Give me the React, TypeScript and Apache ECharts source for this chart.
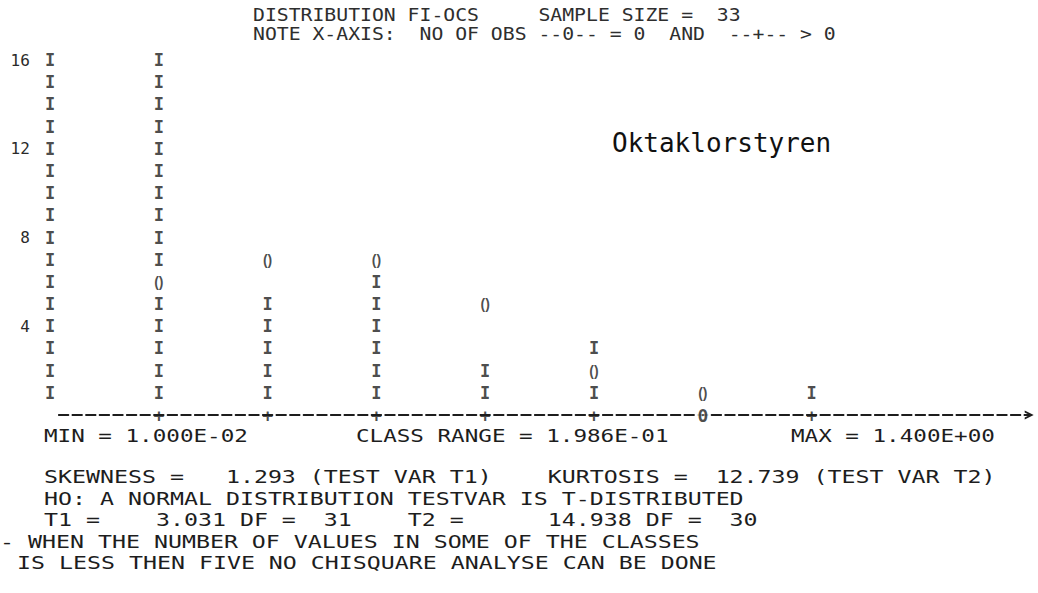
import React, { useEffect, useRef } from "react";
import * as echarts from "echarts";

// ---- data ----
const classIndex = [0, 1, 2, 3, 4, 5, 6, 7];
const counts = [16, 16, 5, 6, 2, 3, 0, 1];
const expected: (number | null)[] = [null, 6, 7, 7, 5, 2, 1, null];
const yTicks = [4, 8, 12, 16];

const titleLine1 = "DISTRIBUTION FI-OCS     SAMPLE SIZE =  33";
const titleLine2 = "NOTE X-AXIS:  NO OF OBS --0-- = 0  AND  --+-- > 0";
const minText = "MIN = 1.000E-02";
const rangeText = "CLASS RANGE = 1.986E-01";
const maxText = "MAX = 1.400E+00";
const statLines = [
  "SKEWNESS =   1.293 (TEST VAR T1)    KURTOSIS =  12.739 (TEST VAR T2)",
  "HO: A NORMAL DISTRIBUTION TESTVAR IS T-DISTRIBUTED",
  "T1 =    3.031 DF =  31    T2 =      14.938 DF =  30",
];
const noteLines = [
  "- WHEN THE NUMBER OF VALUES IN SOME OF THE CLASSES",
  "IS LESS THEN FIVE NO CHISQUARE ANALYSE CAN BE DONE",
];
const label = "Oktaklorstyren";

const INK = "#1d1d1d";
const MONO = "'DejaVu Sans Mono'";
const PITCH = 13.6; // print column width inside the plot
const TITLE_PITCH = 11.9;
const FOOT_PITCH = 14.0;

function mono(text: string, x: number, y: number, size: number, pitch: number, fill = INK) {
  return {
    type: "text",
    x,
    y,
    scaleX: pitch / (0.602 * size),
    silent: true,
    style: {
      text,
      fill,
      font: `${size}px ${MONO}`,
      textAlign: "left",
      align: "left",
      textVerticalAlign: "middle",
      verticalAlign: "middle",
    },
  };
}

export default function App() {
  const ref = useRef<HTMLDivElement>(null);
  useEffect(() => {
    const chart = echarts.init(ref.current!, null, { renderer: "svg" });

    const barPts: number[][] = [];
    classIndex.forEach((i) => {
      for (let k = 1; k <= counts[i]; k++) if (expected[i] !== k) barPts.push([i, k]);
    });
    const expPts = classIndex
      .filter((i) => expected[i] != null)
      .map((i) => [i, expected[i] as number]);
    const axisPts = classIndex.slice(1).map((i) => {
      const ch = counts[i] > 0 ? "+" : "0";
      return {
        value: [i, 0],
        label: {
          formatter: ch,
          backgroundColor: ch === "0" ? "#ffffff" : "transparent",
        },
      };
    });

    const unit = PITCH * 8; // one class = 8 print columns
    const col0 = 50;
    const gridLeft = col0 + PITCH / 2;
    const xMax = 72 / 8; // arrow sits 72 print columns right of the first class

    chart.setOption({
      animation: false,
      backgroundColor: "#ffffff",
      grid: { left: gridLeft, right: 1038 - (col0 + xMax * unit), top: 60, bottom: 178 },
      xAxis: {
        type: "value",
        min: (gridLeft - col0) / unit,
        max: xMax,
        axisLabel: { show: false },
        axisTick: { show: false },
        splitLine: { show: false },
        axisLine: {
          show: true,
          symbol: ["none", "path://M0,10 L5,0 L10,10 L7.8,10 L5,4.4 L2.2,10 Z"],
          symbolSize: [11, 9],
          lineStyle: { color: INK, width: 1.8, type: [9.6, 4], dashOffset: -2 },
        },
      },
      yAxis: {
        type: "value",
        min: 0,
        max: 16,
        interval: 4,
        axisLine: { show: false },
        axisTick: { show: false },
        splitLine: { show: false },
        axisLabel: {
          showMinLabel: false,
          margin: 27,
          color: "#2a2a2a",
          fontFamily: "DejaVu Sans Mono",
          fontSize: 16,
          formatter: (v: number) => (yTicks.includes(v) ? String(v) : ""),
        },
      },
      series: [
        {
          type: "scatter",
          name: "count",
          clip: false,
          symbolSize: 1,
          itemStyle: { color: "rgba(0,0,0,0)" },
          data: barPts,
          label: {
            show: true,
            position: "inside",
            formatter: "I",
            fontFamily: "DejaVu Sans Mono",
            fontWeight: "bold",
            fontSize: 17,
            color: INK,
          },
        },
        {
          type: "scatter",
          name: "normal",
          clip: false,
          symbolSize: 1,
          itemStyle: { color: "rgba(0,0,0,0)" },
          data: expPts,
          label: {
            show: true,
            position: "inside",
            formatter: "()",
            fontFamily: "Liberation Sans",
            fontWeight: "bold",
            fontSize: 14,
            color: INK,
          },
        },
        {
          type: "scatter",
          name: "axis",
          clip: false,
          symbolSize: 1,
          itemStyle: { color: "rgba(0,0,0,0)" },
          data: axisPts,
          label: {
            show: true,
            position: "inside",
            fontFamily: "DejaVu Sans Mono",
            fontWeight: "bold",
            fontSize: 18,
            color: INK,
            padding: [0, 1],
          },
        },
      ],
      graphic: [
        mono(titleLine1, 253, 15, 17, TITLE_PITCH, "#2e2e2e"),
        mono(titleLine2, 253, 34, 17, TITLE_PITCH, "#2e2e2e"),
        mono(minText, 44, 436, 18, PITCH),
        mono(rangeText, 356, 436, 18, PITCH),
        mono(maxText, 791, 436, 18, PITCH),
        ...statLines.map((t, i) => mono(t, 44, 477 + i * 21.6, 18, FOOT_PITCH)),
        mono(noteLines[0], 0, 541.8, 18, FOOT_PITCH),
        mono(noteLines[1], 17, 563.4, 18, FOOT_PITCH),
        {
          type: "text",
          x: 612,
          y: 143,
          silent: true,
          style: {
            text: label,
            fill: "#111",
            font: `26px ${MONO}`,
            textAlign: "left",
            align: "left",
            textVerticalAlign: "middle",
            verticalAlign: "middle",
          },
        },
      ],
    });
    return () => chart.dispose();
  }, []);
  return (
    <div
      ref={ref}
      style={{ position: "fixed", left: 0, top: 0, width: 1038, height: 593, background: "#fff" }}
    />
  );
}
